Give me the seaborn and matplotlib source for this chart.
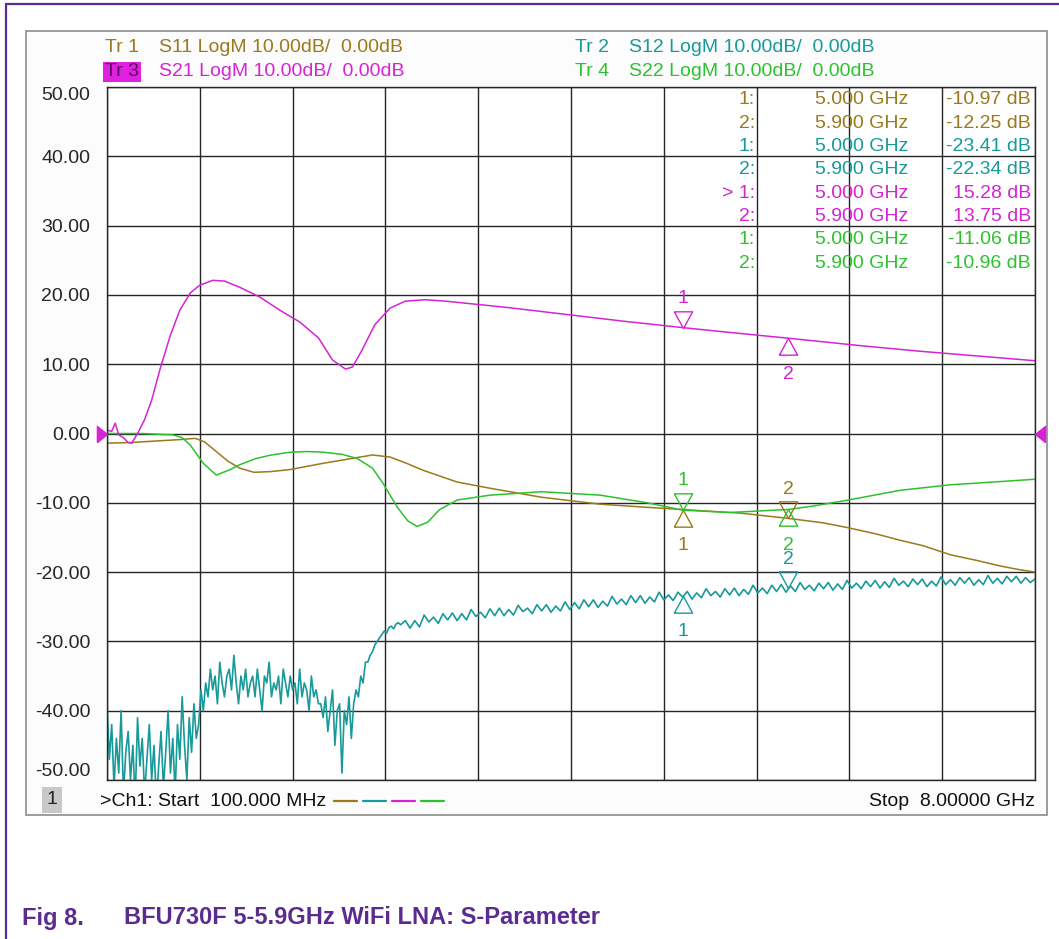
import numpy as np
import matplotlib
matplotlib.use('Agg')
import matplotlib.pyplot as plt
import seaborn as sns
from matplotlib.path import Path
from matplotlib.patches import Rectangle
from matplotlib.lines import Line2D

# sweep settings (from the analyser screen)
f_start = 0.1   # GHz
f_stop = 8.0    # GHz
ref_level = 0.0
y_ticks = [-50, -40, -30, -20, -10, 0, 10, 20, 30, 40, 50]

# S11 (Tr 1)
s11_f = [0.10, 0.30, 0.50, 0.70, 0.85, 0.93, 1.03, 1.13, 1.23, 1.35, 1.49, 1.66, 1.94, 2.15,
         2.36, 2.51, 2.65, 2.79, 3.08, 3.36, 3.80, 4.30, 4.65, 5.00, 5.50, 5.90, 6.20, 6.41,
         6.65, 6.85, 7.05, 7.28, 7.50, 7.70, 7.85, 8.00]
s11_db = [-1.4, -1.3, -1.1, -0.9, -0.7, -1.2, -2.6, -4.0, -5.0, -5.6, -5.5, -5.2, -4.3, -3.7,
          -3.1, -3.4, -4.3, -5.3, -7.0, -7.9, -9.2, -10.2, -10.6, -10.97, -11.5, -12.25, -12.9, -13.6,
          -14.5, -15.4, -16.2, -17.5, -18.3, -19.1, -19.6, -20.0]

# S21 (Tr 3)
s21_f = [0.10, 0.14, 0.17, 0.20, 0.24, 0.28, 0.31, 0.36, 0.42, 0.48, 0.55, 0.64, 0.72, 0.81,
         0.89, 1.00, 1.10, 1.23, 1.40, 1.57, 1.74, 1.90, 2.02, 2.13, 2.19, 2.27, 2.38, 2.51,
         2.64, 2.81, 2.98, 3.50, 4.00, 4.50, 5.00, 5.45, 5.90, 6.50, 7.00, 7.50, 8.00]
s21_db = [0.5, 0.3, 1.5, -0.2, -0.6, -1.3, -1.4, 0.0, 2.0, 4.8, 9.2, 14.2, 17.8, 20.3,
          21.4, 22.1, 22.0, 21.1, 19.7, 17.8, 16.1, 13.8, 10.6, 9.3, 9.6, 12.0, 15.7, 18.1,
          19.1, 19.3, 19.1, 18.2, 17.2, 16.2, 15.28, 14.5, 13.75, 12.7, 11.9, 11.2, 10.5]

# S22 (Tr 4)
s22_f = [0.10, 0.40, 0.66, 0.74, 0.81, 0.92, 1.03, 1.15, 1.23, 1.37, 1.50, 1.66, 1.80, 1.94,
         2.10, 2.23, 2.36, 2.45, 2.57, 2.66, 2.74, 2.83, 2.93, 3.08, 3.36, 3.80, 4.30, 4.70,
         5.00, 5.40, 5.90, 6.10, 6.41, 6.85, 7.28, 7.65, 8.00]
s22_db = [0.0, 0.0, -0.2, -0.6, -1.7, -4.3, -6.0, -5.2, -4.5, -3.6, -3.1, -2.7, -2.6, -2.7,
          -3.0, -3.6, -5.0, -7.2, -10.6, -12.6, -13.4, -12.8, -11.0, -9.6, -8.9, -8.4, -8.9, -10.0,
          -11.06, -11.4, -10.96, -10.5, -9.6, -8.2, -7.4, -7.0, -6.6]

# S12 (Tr 2) - noisy trace, read point by point
s12_f_low = np.round(np.arange(0.10, 2.601, 0.02), 2)
s12_db_low = [
    -39, -47, -42, -51, -44, -49, -40, -52, -46, -43, -50, -45, -53, -41, -48, -44, -52, -47, -42, -50,
    -45, -53, -48, -43, -51, -46, -40, -49, -44, -52, -42, -47, -38, -45, -50, -41, -46, -39, -44, -42, -37,
    -40, -36, -38, -34, -37, -35, -39, -33, -36, -38, -35, -34, -37, -32, -36, -39, -35, -37, -34, -38,
    -36, -35, -38, -34, -37, -40, -35, -36, -33, -38, -36, -37, -35, -39, -34, -36, -38, -35, -37, -36,
    -39, -34, -38, -36, -37, -40, -35, -38, -37, -39,
    -39, -41, -38, -43, -40, -37, -45, -40, -39, -49, -40, -42, -38, -44, -39, -37, -38, -35, -36, -33,
    -33, -32, -31.5, -30.5, -30, -29.5, -29, -28.5, -28.8, -28, -27.8, -28.2, -27.5, -27.3, -27.6]
s12_f_high = np.round(np.arange(2.64, 8.001, 0.04), 2)
s12_db_high = [
    -27.0, -28.1, -27.0, -27.9, -26.2, -27.2, -26.5, -27.4, -26.0, -26.9,
    -25.9, -27.0, -26.0, -26.9, -25.4, -26.4, -25.8, -26.6, -25.3, -26.3,
    -25.2, -26.3, -25.4, -26.2, -24.8, -25.7, -25.2, -26.0, -24.7, -25.6,
    -24.7, -25.8, -24.9, -25.6, -24.3, -25.4, -24.4, -25.3, -24.0, -25.0,
    -24.0, -25.1, -24.2, -24.9, -23.5, -24.6, -23.9, -24.7, -23.4, -24.4,
    -23.4, -24.5, -23.6, -24.3, -22.9, -24.0, -23.3, -24.1, -22.9, -23.6,
    -22.8, -23.9, -23.0, -23.7, -22.4, -23.4, -22.8, -23.6, -22.4, -23.3,
    -22.3, -23.4, -22.5, -23.2, -21.9, -23.0, -22.3, -23.1, -21.9, -22.8,
    -21.8, -22.9, -22.0, -22.8, -21.5, -22.5, -21.9, -22.7, -21.6, -22.4,
    -21.5, -22.6, -21.7, -22.5, -21.2, -22.3, -21.6, -22.4, -21.3, -22.1,
    -21.2, -22.3, -21.4, -22.2, -20.9, -21.9, -21.3, -22.1, -21.0, -21.8,
    -21.0, -22.1, -21.3, -22.0, -20.7, -21.8, -21.1, -21.9, -20.8, -21.6,
    -20.8, -21.9, -21.1, -21.8, -20.5, -21.6, -20.9, -21.7, -20.6, -21.4,
    -20.6, -21.6, -20.8, -21.5, -21.0]

# markers
marker_f = [5.0, 5.9]
s11_mk = [-10.97, -12.25]
s12_mk = [-23.41, -22.34]
s21_mk = [15.28, 13.75]
s22_mk = [-11.06, -10.96]

C_S11 = '#9a7a1c'
C_S12 = '#18999a'
C_S21 = '#d424d4'
C_S22 = '#2dc22d'
PURPLE = '#5b2c8f'

W, H = 1059, 939


def px(x, y):
    return x / W, 1 - y / H


sns.set_style('white')
plt.rcParams['font.family'] = ['Liberation Sans', 'DejaVu Sans']

fig = plt.figure(figsize=(W / 100, H / 100), dpi=100)

# page border + analyser screen frame
fig.add_artist(Line2D([6 / W, 1.0], [1 - 4 / H, 1 - 4 / H], color=PURPLE, lw=1.6))
fig.add_artist(Line2D([6 / W, 6 / W], [0.0, 1 - 4 / H], color=PURPLE, lw=1.6))
x0, y0 = px(26, 815)
fig.add_artist(Rectangle((x0, y0), (1047 - 26) / W, (815 - 31) / H, transform=fig.transFigure,
                         fc='#fcfcfc', ec='#8c8c8c', lw=1.2, zorder=-1))

l, b = px(107, 780)
ax = fig.add_axes([l, b, 928 / W, 693 / H])

s12_f = np.concatenate([s12_f_low, s12_f_high])
s12_db = np.array(s12_db_low + s12_db_high, dtype=float)

traces = [
    (s11_f, s11_db, C_S11, 1.1),
    (s12_f, s12_db, C_S12, 1.2),
    (s22_f, s22_db, C_S22, 1.1),
    (s21_f, s21_db, C_S21, 1.1),
]
for f, v, c, w in traces:
    sns.lineplot(x=f, y=v, ax=ax, color=c, lw=w, estimator=None, errorbar=None)

ax.set_xlim(f_start, f_stop)
ax.set_ylim(y_ticks[0], y_ticks[-1])
ax.set_xticks(np.linspace(f_start, f_stop, 11))
ax.set_xticklabels([])
ax.set_yticks(y_ticks)
ax.set_yticklabels([f'{v:.2f}' for v in y_ticks])
ax.tick_params(length=0, pad=12, labelsize=14)
ylabels = ax.get_yticklabels()
ylabels[0].set_va('bottom')
ylabels[-1].set_va('top')
ax.grid(True, color='#262626', lw=1.0)
for s in ax.spines.values():
    s.set_color('#262626')
    s.set_linewidth(1.0)
ax.set_xlabel('')
ax.set_ylabel('')
ax.set_facecolor('white')

# reference level arrows
tri_right = Path([(-1, -0.8), (0, 0), (-1, 0.8), (-1, -0.8)])
tri_left = Path([(1, -0.8), (0, 0), (1, 0.8), (1, -0.8)])
ax.plot([f_start], [ref_level], marker=tri_right, ms=14.5, color=C_S21, ls='none', clip_on=False, zorder=5)
ax.plot([f_stop], [ref_level], marker=tri_left, ms=14.5, color=C_S21, ls='none', clip_on=False, zorder=5)

# trace markers
tri_above = Path([(-0.55, 1.0), (0.55, 1.0), (0, 0), (-0.55, 1.0)])
tri_below = Path([(-0.55, -1.0), (0.55, -1.0), (0, 0), (-0.55, -1.0)])
marker_sets = [
    (s11_mk, C_S11, ['below', 'above']),
    (s12_mk, C_S12, ['below', 'above']),
    (s21_mk, C_S21, ['above', 'below']),
    (s22_mk, C_S22, ['above', 'below']),
]
for vals, c, sides in marker_sets:
    for i, (f, v, side) in enumerate(zip(marker_f, vals, sides)):
        shape = tri_above if side == 'above' else tri_below
        ax.plot([f], [v], marker=shape, ms=24, mfc='none', mec=c, mew=1.0, ls='none', zorder=6)
        dy = 21 if side == 'above' else -26
        ax.annotate(str(i + 1), xy=(f, v), xytext=(0, dy), textcoords='offset points',
                    ha='center', va='center', color=c, fontsize=14)

# header lines
fig.text(*px(105, 47), 'Tr 1', color=C_S11, fontsize=14, va='center')
fig.text(*px(159, 47), 'S11 LogM 10.00dB/  0.00dB', color=C_S11, fontsize=14, va='center')
fig.text(*px(105, 72), 'Tr 3', color='#5a0a5a', fontsize=14, va='center',
         bbox=dict(boxstyle='square,pad=0.1', fc='#e020e0', ec='none'))
fig.text(*px(159, 72), 'S21 LogM 10.00dB/  0.00dB', color=C_S21, fontsize=14, va='center')
fig.text(*px(575, 47), 'Tr 2', color=C_S12, fontsize=14, va='center')
fig.text(*px(629, 47), 'S12 LogM 10.00dB/  0.00dB', color=C_S12, fontsize=14, va='center')
fig.text(*px(575, 72), 'Tr 4', color=C_S22, fontsize=14, va='center')
fig.text(*px(629, 72), 'S22 LogM 10.00dB/  0.00dB', color=C_S22, fontsize=14, va='center')

# marker table
rows = []
for vals, c in [(s11_mk, C_S11), (s12_mk, C_S12), (s21_mk, C_S21), (s22_mk, C_S22)]:
    for i, (f, v) in enumerate(zip(marker_f, vals)):
        rows.append((i + 1, f, v, c))
for r, (n, f, v, c) in enumerate(rows):
    y = 100 + r * 23.3
    tag = f'> {n}:' if (c == C_S21 and n == 1) else f'{n}:'
    fig.text(*px(755, y), tag, color=c, fontsize=14, ha='right', va='center')
    fig.text(*px(908, y), f'{f:.3f} GHz', color=c, fontsize=14, ha='right', va='center')
    fig.text(*px(1031, y), f'{v:.2f} dB', color=c, fontsize=14, ha='right', va='center')

# status bar
fig.text(*px(52, 800), '1', color='#222222', fontsize=14, ha='center', va='center',
         bbox=dict(boxstyle='square,pad=0.25', fc='#c8c8c8', ec='none'))
fig.text(*px(100, 801), f'>Ch1: Start  {f_start * 1000:.3f} MHz', color='#111111', fontsize=14, va='center')
for k, c in enumerate([C_S11, C_S12, C_S21, C_S22]):
    xa = 334 + k * 29
    fig.add_artist(Line2D([xa / W, (xa + 23) / W], [1 - 801 / H] * 2, color=c, lw=1.6))
fig.text(*px(1035, 801), f'Stop  {f_stop:.5f} GHz', color='#111111', fontsize=14, ha='right', va='center')

# caption
fig.text(*px(22, 918), 'Fig 8.', color=PURPLE, fontsize=17, fontweight='bold', va='center')
fig.text(*px(124, 918), 'BFU730F 5-5.9GHz WiFi LNA: S-Parameter', color=PURPLE, fontsize=17,
         fontweight='bold', va='center')

fig.savefig('out.png', dpi=100)
